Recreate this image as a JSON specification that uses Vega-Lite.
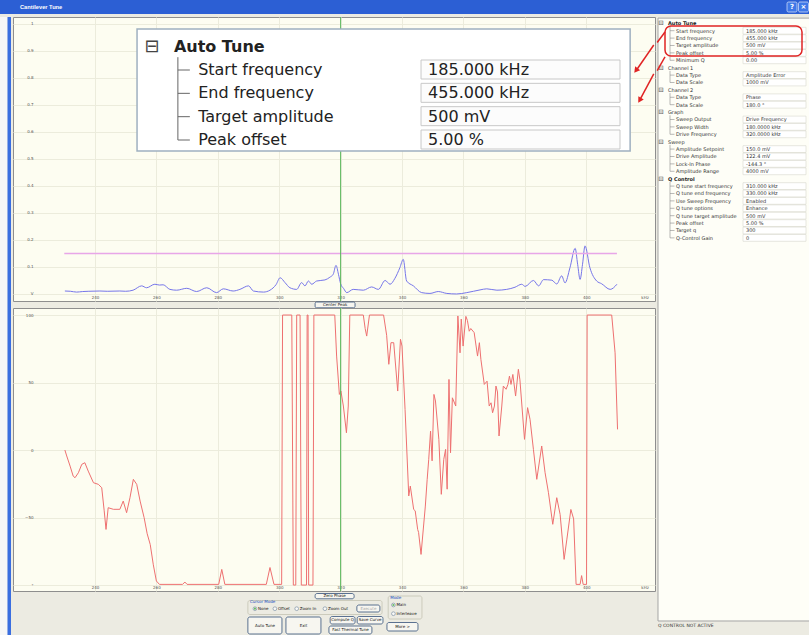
{
  "$schema": "https://vega.github.io/schema/vega-lite/v6.json",
  "padding": 0,
  "background": "#ecebe2",
  "spacing": 2,
  "config": {
    "view": {"stroke": null},
    "text": {"font": "DejaVu Sans"},
    "axis": {"labelFont": "DejaVu Sans"}
  },
  "datasets": {
    "amp": [
      {"f":230.2,"v":0.011},{"f":232,"v":0.010},{"f":234,"v":0.007},{"f":236,"v":0.009},{"f":238,"v":0.010},{"f":241.6,"v":0.011},{"f":244,"v":0.010},{"f":248.1,"v":0.011},{"f":250,"v":0.010},{"f":252.4,"v":0.014},{"f":255.2,"v":0.030},{"f":256.8,"v":0.023},{"f":259.5,"v":0.036},{"f":261,"v":0.033},{"f":262.2,"v":0.034},{"f":264.4,"v":0.017},{"f":266.6,"v":0.014},{"f":269.9,"v":0.021},{"f":273.1,"v":0.009},{"f":276.4,"v":0.023},{"f":279.6,"v":0.005},{"f":281.8,"v":0.019},{"f":285.0,"v":0.011},{"f":287.2,"v":0.017},{"f":290.0,"v":0.030},{"f":291.6,"v":0.011},{"f":294.9,"v":0.007},{"f":297.0,"v":0.014},{"f":299,"v":0.035},{"f":300.3,"v":0.060},{"f":301.9,"v":0.042},{"f":303.5,"v":0.023},{"f":305.7,"v":0.017},{"f":307.3,"v":0.042},{"f":308.4,"v":0.030},{"f":309.5,"v":0.048},{"f":310.6,"v":0.036},{"f":312.2,"v":0.048},{"f":314.9,"v":0.052},{"f":316.5,"v":0.062},{"f":317.6,"v":0.073},{"f":318.5,"v":0.106},{"f":319.3,"v":0.073},{"f":320.0,"v":0.038},{"f":321,"v":0.020},{"f":322.0,"v":0.005},{"f":324.1,"v":0.017},{"f":327.4,"v":0.014},{"f":330.1,"v":0.026},{"f":332.3,"v":0.017},{"f":334.5,"v":0.050},{"f":336.1,"v":0.036},{"f":337.7,"v":0.058},{"f":339.3,"v":0.097},{"f":340.4,"v":0.128},{"f":341.5,"v":0.048},{"f":343.7,"v":0.030},{"f":346.4,"v":0.005},{"f":349.1,"v":0.002},{"f":351.8,"v":0.009},{"f":354.6,"v":0.002},{"f":357.8,"v":0.000},{"f":361.1,"v":0.005},{"f":365.4,"v":0.015},{"f":367.6,"v":0.019},{"f":370.9,"v":0.014},{"f":374.1,"v":0.017},{"f":376.8,"v":0.025},{"f":379.0,"v":0.036},{"f":380.1,"v":0.028},{"f":382.8,"v":0.050},{"f":384.5,"v":0.030},{"f":386.1,"v":0.053},{"f":388.8,"v":0.051},{"f":390.4,"v":0.037},{"f":392.0,"v":0.067},{"f":393.1,"v":0.041},{"f":394.7,"v":0.097},{"f":396.4,"v":0.169},{"f":397.2,"v":0.110},{"f":398.0,"v":0.054},{"f":398.8,"v":0.110},{"f":399.6,"v":0.178},{"f":401.2,"v":0.097},{"f":403.4,"v":0.048},{"f":405.0,"v":0.038},{"f":407.8,"v":0.017},{"f":410.0,"v":0.036}
    ],
    "phase": [
      {"f":230.2,"p":0},{"f":230.8,"p":-4.4},{"f":231.9,"p":-11.9},{"f":232.9,"p":-19.3},{"f":233.5,"p":-20.5},{"f":234.6,"p":-16.8},{"f":235.7,"p":-10.6},{"f":236.7,"p":-9.4},{"f":237.8,"p":-15.6},{"f":239.5,"p":-24.2},{"f":241.1,"p":-25.4},{"f":242.2,"p":-27.9},{"f":243.0,"p":-45},{"f":243.6,"p":-58.8},{"f":244.3,"p":-42.7},{"f":246.0,"p":-43.9},{"f":248.1,"p":-43.9},{"f":249.2,"p":-37.8},{"f":250.3,"p":-46.4},{"f":251.4,"p":-35.3},{"f":252.5,"p":-21.7},{"f":253.6,"p":-25.4},{"f":254.7,"p":-37.8},{"f":256.0,"p":-50},{"f":257.0,"p":-62},{"f":258.0,"p":-70},{"f":259.0,"p":-85},{"f":260.0,"p":-97},{"f":261.0,"p":-99.5},{"f":268.5,"p":-99.5},{"f":269.3,"p":-97.8},{"f":270.0,"p":-99.5},{"f":280.3,"p":-99.5},{"f":281.3,"p":-88.4},{"f":282.3,"p":-99.5},{"f":295.8,"p":-99.5},{"f":297.0,"p":-87},{"f":298.3,"p":-99.5},{"f":300.8,"p":-99.5},{"f":301.1,"p":100},{"f":304.1,"p":100},{"f":304.6,"p":-100},{"f":305.4,"p":-100},{"f":305.7,"p":100},{"f":306.8,"p":100},{"f":307.2,"p":-100},{"f":308.9,"p":-100},{"f":309.1,"p":100},{"f":309.4,"p":100},{"f":309.6,"p":-100},{"f":311.0,"p":-100},{"f":311.3,"p":100},{"f":318.1,"p":100},{"f":318.7,"p":69.6},{"f":319.6,"p":41.2},{"f":320.1,"p":43.7},{"f":320.9,"p":32.6},{"f":321.9,"p":12.8},{"f":322.5,"p":32.6},{"f":323.0,"p":100},{"f":327.4,"p":100},{"f":328.0,"p":90},{"f":328.5,"p":84.4},{"f":329.4,"p":100},{"f":334.0,"p":100},{"f":335.0,"p":85},{"f":335.7,"p":63.5},{"f":336.4,"p":79.5},{"f":337.3,"p":79.5},{"f":338.6,"p":43.7},{"f":339.5,"p":82},{"f":340.0,"p":77},{"f":341.0,"p":30},{"f":342.2,"p":-34},{"f":342.7,"p":-26.7},{"f":343.8,"p":-44},{"f":344.3,"p":-45},{"f":345.1,"p":-58.8},{"f":345.4,"p":-61},{"f":346.2,"p":-77.3},{"f":347.6,"p":-41.5},{"f":348.2,"p":-21.7},{"f":348.7,"p":-6.9},{"f":349.3,"p":14},{"f":349.8,"p":-8},{"f":350.4,"p":41.2},{"f":350.9,"p":36.3},{"f":352.0,"p":7.9},{"f":352.8,"p":-32.8},{"f":353.6,"p":-6.9},{"f":354.2,"p":0.5},{"f":354.7,"p":-29},{"f":355.3,"p":52.3},{"f":355.8,"p":-2},{"f":356.4,"p":38.7},{"f":357.5,"p":32.6},{"f":358.2,"p":99.3},{"f":358.9,"p":72},{"f":359.3,"p":97},{"f":359.9,"p":77},{"f":360.8,"p":99},{"f":361.3,"p":96},{"f":361.9,"p":88},{"f":362.4,"p":90},{"f":363.5,"p":87},{"f":364.6,"p":69.6},{"f":365.2,"p":79.5},{"f":365.7,"p":67},{"f":366.8,"p":48.6},{"f":367.7,"p":51},{"f":368.4,"p":32.6},{"f":369.0,"p":35},{"f":369.5,"p":27.6},{"f":370.1,"p":32.6},{"f":370.6,"p":47.4},{"f":371.1,"p":43},{"f":371.6,"p":10.4},{"f":372.5,"p":32.6},{"f":373.0,"p":47.4},{"f":373.9,"p":45},{"f":374.5,"p":48.6},{"f":375.0,"p":54.8},{"f":375.5,"p":48.6},{"f":376.1,"p":56},{"f":377.0,"p":40},{"f":377.9,"p":59.8},{"f":378.4,"p":52},{"f":379.9,"p":7.9},{"f":380.9,"p":31.4},{"f":381.7,"p":22.7},{"f":382.8,"p":0.5},{"f":383.9,"p":-21.7},{"f":385.5,"p":3},{"f":386.6,"p":-16.8},{"f":387.7,"p":-31.6},{"f":389.1,"p":-55},{"f":390.4,"p":-35.3},{"f":391.5,"p":-47.7},{"f":392.8,"p":-81},{"f":393.7,"p":-66},{"f":395.0,"p":-44},{"f":395.9,"p":-51},{"f":396.7,"p":-99.5},{"f":398.0,"p":-99.5},{"f":398.5,"p":-93},{"f":399.0,"p":-99.5},{"f":400.1,"p":-99.5},{"f":400.3,"p":100},{"f":408.3,"p":100},{"f":409.4,"p":72},{"f":410.2,"p":15.3}
    ],
    "tree": [
      {"r":1,"s":"Auto Tune","l":"Auto Tune"},
      {"r":2,"s":"Auto Tune","l":"Start frequency","v":"185.000 kHz"},
      {"r":3,"s":"Auto Tune","l":"End frequency","v":"455.000 kHz"},
      {"r":4,"s":"Auto Tune","l":"Target amplitude","v":"500 mV"},
      {"r":5,"s":"Auto Tune","l":"Peak offset","v":"5.00 %"},
      {"r":6,"s":"Auto Tune","l":"Minimum Q","v":"0.00"},
      {"r":7,"s":"Channel 1","l":"Channel 1"},
      {"r":8,"s":"Channel 1","l":"Data Type","v":"Amplitude Error"},
      {"r":9,"s":"Channel 1","l":"Data Scale","v":"1000 mV"},
      {"r":10,"s":"Channel 2","l":"Channel 2"},
      {"r":11,"s":"Channel 2","l":"Data Type","v":"Phase"},
      {"r":12,"s":"Channel 2","l":"Data Scale","v":"180.0 °"},
      {"r":13,"s":"Graph","l":"Graph"},
      {"r":14,"s":"Graph","l":"Sweep Output","v":"Drive Frequency"},
      {"r":15,"s":"Graph","l":"Sweep Width","v":"180.0000 kHz"},
      {"r":16,"s":"Graph","l":"Drive Frequency","v":"320.0000 kHz"},
      {"r":17,"s":"Sweep","l":"Sweep"},
      {"r":18,"s":"Sweep","l":"Amplitude Setpoint","v":"150.0 mV"},
      {"r":19,"s":"Sweep","l":"Drive Amplitude","v":"122.4 mV"},
      {"r":20,"s":"Sweep","l":"Lock-In Phase","v":"-144.3 °"},
      {"r":21,"s":"Sweep","l":"Amplitude Range","v":"4000 mV"},
      {"r":22,"s":"Q Control","l":"Q Control"},
      {"r":23,"s":"Q Control","l":"Q tune start frequency","v":"310.000 kHz"},
      {"r":24,"s":"Q Control","l":"Q tune end frequency","v":"330.000 kHz"},
      {"r":25,"s":"Q Control","l":"Use Sweep Frequency","v":"Enabled"},
      {"r":26,"s":"Q Control","l":"Q tune options","v":"Enhance"},
      {"r":27,"s":"Q Control","l":"Q tune target amplitude","v":"500 mV"},
      {"r":28,"s":"Q Control","l":"Peak offset","v":"5.00 %"},
      {"r":29,"s":"Q Control","l":"Target q","v":"300"},
      {"r":30,"s":"Q Control","l":"Q-Control Gain","v":"0"}
    ],
    "buttons": [
      {"l":"Zero Phase","x0":311.7,"x1":324.4,"xc":318.05,"y0":2.5,"y1":7.8,"yc":5.2},
      {"l":"Execute","x0":325.3,"x1":332.8,"xc":329.05,"y0":14,"y1":21,"yc":17.5},
      {"l":"Auto Tune","x0":289.8,"x1":300.9,"xc":295.35,"y0":26,"y1":43,"yc":34.5},
      {"l":"Exit","x0":302.2,"x1":313.6,"xc":307.9,"y0":26,"y1":43,"yc":34.5},
      {"l":"Compute Q","x0":316.6,"x1":324.7,"xc":320.65,"y0":25.5,"y1":33,"yc":29.3},
      {"l":"Save Curve","x0":325.4,"x1":333.8,"xc":329.6,"y0":25.5,"y1":33,"yc":29.3},
      {"l":"Fast Thermal Tune","x0":316.2,"x1":330.2,"xc":323.2,"y0":35,"y1":43,"yc":39},
      {"l":"More >","x0":335.1,"x1":345.2,"xc":340.15,"y0":31.5,"y1":40,"yc":35.8}
    ],
    "groups": [
      {"l":"Cursor Mode","x0":289.8,"x1":333.5,"y0":9.5,"y1":23.5},
      {"l":"Mode","x0":335.5,"x1":346.5,"y0":5,"y1":28}
    ],
    "radios": [
      {"l":"None","x":292.1,"y":17.7},
      {"l":"Offset","x":298.6,"y":17.7},
      {"l":"Zoom In","x":305.7,"y":17.7},
      {"l":"Zoom Out","x":314.9,"y":17.7},
      {"l":"Main","x":337.2,"y":14},
      {"l":"Interleave","x":337.2,"y":22.7}
    ],
    "winbtn": [
      {"g":"?","x0":787,"x1":797,"xc":792},
      {"g":"×","x0":798.5,"x1":808.5,"xc":803.5}
    ]
  },
  "vconcat": [
    {
      "width": 809, "height": 14,
      "view": {"fill": "#2c5fd4", "stroke": null},
      "layer": [
        {"data": {"values": [{"t": "Cantilever Tune"}]},
          "mark": {"type": "text", "align": "left", "baseline": "middle", "color": "#ffffff", "fontSize": 5.7, "fontWeight": "bold", "font": "Liberation Sans"},
          "encoding": {"x": {"datum": 20, "scale": {"domain": [0, 809], "nice": false, "zero": false}, "axis": null}, "text": {"field": "t"}}},
        {"data": {"name": "winbtn"}, "mark": {"type": "rect", "fill": "#3f78e8", "stroke": "#ffffff", "strokeWidth": 0.6, "cornerRadius": 1.5},
          "encoding": {"x": {"field": "x0", "type": "quantitative"}, "x2": {"field": "x1"}, "y": {"datum": 2, "scale": {"domain": [0, 14], "reverse": true, "nice": false, "zero": false}, "axis": null}, "y2": {"datum": 12}}},
        {"data": {"name": "winbtn"}, "mark": {"type": "text", "align": "center", "baseline": "middle", "color": "#ffffff", "fontSize": 7, "fontWeight": "bold"},
          "encoding": {"x": {"field": "xc", "type": "quantitative"}, "y": {"datum": 7}, "text": {"field": "g"}}}
      ]
    },
    {
      "hconcat": [
        {
          "width": 12, "height": 619,
          "view": {"fill": null, "stroke": null},
          "layer": [
            {"data": {"values": [{}]}, "mark": {"type": "rect", "fill": "#f7f7f7"}, "encoding": {"x": {"datum": 0, "scale": {"domain": [0, 12], "nice": false, "zero": false}, "axis": null}, "x2": {"datum": 7.5}}},
            {"data": {"values": [{}]}, "mark": {"type": "rect", "fill": "#3a6ee0"}, "encoding": {"x": {"datum": 7.5}, "x2": {"datum": 11}}}
          ]
        },
        {
          "vconcat": [
            {
              "width": 642, "height": 284,
              "view": {"fill": "#fdfdf1", "stroke": "#8e8e8e"},
              "resolve": {"scale": {"y": "independent"}},
              "layer": [
                {
                  "layer": [
                    {
                      "data": {"name": "amp"},
                      "mark": {"type": "line", "color": "#7676ea", "strokeWidth": 1, "interpolate": "monotone"},
                      "encoding": {
                        "x": {"field": "f", "type": "quantitative", "scale": {"domain": [213.3, 422.4], "nice": false, "zero": false},
                          "axis": {"values": [240,260,280,300,320,340,360,380,400,419], "labelExpr": "datum.value == 419 ? 'kHz' : datum.label", "orient": "bottom", "title": null, "domain": false, "ticks": false, "labelPadding": -5.5, "labelFontSize": 4, "labelColor": "#555", "labelBaseline": "top", "labelOverlap": false, "grid": true, "gridColor": {"condition": {"test": "datum.value == 419", "value": "transparent"}, "value": "#ececdc"}}},
                        "y": {"field": "v", "type": "quantitative", "scale": {"domain": [-0.026, 1.025], "nice": false, "zero": false},
                          "axis": {"values": [0,0.1,0.2,0.3,0.4,0.5,0.6,0.7,0.8,0.9,1], "tickCount": 11, "labelExpr": "datum.value == 0 ? 'V' : format(datum.value, '~g')", "title": null, "domain": false, "ticks": false, "labelPadding": -20, "labelFontSize": 4, "labelColor": "#555", "labelOverlap": false, "grid": true, "gridColor": "#ececdc"}}
                      }
                    },
                    {"data": {"values": [{}]}, "mark": {"type": "rule", "color": "#e8a6e8", "strokeWidth": 1.5}, "encoding": {"x": {"datum": 230}, "x2": {"datum": 410}, "y": {"datum": 0.15}}},
                    {"data": {"values": [{}]}, "mark": {"type": "rule", "color": "#5cb85c", "strokeWidth": 1}, "encoding": {"x": {"datum": 320}}}
                  ]
                },
                {
                  "layer": [
                    {"data": {"values": [{}]}, "mark": {"type": "rect", "fill": "#ffffff", "stroke": "#9fb0c0", "strokeWidth": 1.5},
                      "encoding": {"x": {"datum": 253.7}, "x2": {"datum": 414.3}, "y": {"datum": 0.242, "scale": {"domain": [-0.272, 11.9], "reverse": true, "nice": false, "zero": false}, "axis": null}, "y2": {"datum": 5.472}}},
                    {"data": {"values": [{}]}, "mark": {"type": "rule", "color": "#666666", "strokeWidth": 1}, "encoding": {"x": {"datum": 267.0}, "y": {"datum": 1.45}, "y2": {"datum": 5}}},
                    {"data": {"name": "tree"}, "transform": [{"filter": "datum.r >= 2 && datum.r <= 5"}], "mark": {"type": "rule", "color": "#666666", "strokeWidth": 1}, "encoding": {"x": {"datum": 267.0}, "x2": {"datum": 270.9}, "y": {"field": "r", "type": "quantitative"}}},
                    {"data": {"name": "tree"}, "transform": [{"filter": "datum.r >= 2 && datum.r <= 5"}], "mark": {"type": "rect", "fill": "#fcfcfc", "stroke": "#c8c8c8", "strokeWidth": 1, "yOffset": -10, "y2Offset": 9}, "encoding": {"x": {"datum": 346.2}, "x2": {"datum": 411.0}, "y": {"field": "r", "type": "quantitative"}, "y2": {"field": "r"}}},
                    {"data": {"name": "tree"}, "transform": [{"filter": "datum.r >= 2 && datum.r <= 5"}], "mark": {"type": "text", "align": "left", "baseline": "middle", "fontSize": 16, "color": "#222222"}, "encoding": {"x": {"datum": 273.6}, "y": {"field": "r", "type": "quantitative"}, "text": {"field": "l"}}},
                    {"data": {"name": "tree"}, "transform": [{"filter": "datum.r >= 2 && datum.r <= 5"}], "mark": {"type": "text", "align": "left", "baseline": "middle", "fontSize": 16, "color": "#222222"}, "encoding": {"x": {"datum": 348.5}, "y": {"field": "r", "type": "quantitative"}, "text": {"field": "v"}}},
                    {"data": {"name": "tree"}, "transform": [{"filter": "datum.r == 1"}], "mark": {"type": "text", "text": "⊟", "align": "center", "baseline": "middle", "fontSize": 18, "color": "#444444"}, "encoding": {"x": {"datum": 258.6}, "y": {"field": "r", "type": "quantitative"}}},
                    {"data": {"name": "tree"}, "transform": [{"filter": "datum.r == 1"}], "mark": {"type": "text", "align": "left", "baseline": "middle", "fontSize": 16, "fontWeight": "bold", "color": "#222222"}, "encoding": {"x": {"datum": 265.7}, "y": {"field": "r", "type": "quantitative"}, "text": {"field": "l"}}},
                    {"data": {"values": [{}]}, "mark": {"type": "rule", "color": "#e02424", "strokeWidth": 1.5}, "encoding": {"x": {"datum": 422.0}, "x2": {"datum": 416.5}, "y": {"datum": 0.928}, "y2": {"datum": 1.98}}},
                    {"data": {"values": [{}]}, "mark": {"type": "point", "shape": "triangle-up", "filled": true, "color": "#e02424", "size": 40, "angle": 218, "opacity": 1}, "encoding": {"x": {"datum": 416.2}, "y": {"datum": 2.02}}},
                    {"data": {"values": [{}]}, "mark": {"type": "rule", "color": "#e02424", "strokeWidth": 1.5}, "encoding": {"x": {"datum": 422.0}, "x2": {"datum": 417.6}, "y": {"datum": 2.167}, "y2": {"datum": 3.25}}},
                    {"data": {"values": [{}]}, "mark": {"type": "point", "shape": "triangle-up", "filled": true, "color": "#e02424", "size": 40, "angle": 211, "opacity": 1}, "encoding": {"x": {"datum": 417.4}, "y": {"datum": 3.3}}}
                  ]
                }
              ]
            },
            {
              "width": 642, "height": 7,
              "view": {"fill": null, "stroke": null},
              "layer": [
                {"data": {"values": [{}]}, "mark": {"type": "rect", "fill": "#f6f5ef", "stroke": "#34507a", "strokeWidth": 0.8, "cornerRadius": 1.5},
                  "encoding": {"x": {"datum": 311.7, "scale": {"domain": [213.3, 422.4], "nice": false, "zero": false}, "axis": null}, "x2": {"datum": 324.7}, "y": {"datum": 1, "scale": {"domain": [0, 7], "reverse": true, "nice": false}, "axis": null}, "y2": {"datum": 6.8}}},
                {"data": {"values": [{"t": "Center Peak"}]}, "mark": {"type": "text", "align": "center", "baseline": "middle", "fontSize": 4, "color": "#222222"},
                  "encoding": {"x": {"datum": 318.2}, "y": {"datum": 4}, "text": {"field": "t"}}}
              ]
            },
            {
              "width": 642, "height": 283,
              "view": {"fill": "#fdfdf1", "stroke": "#8e8e8e"},
              "layer": [
                {
                  "data": {"name": "phase"},
                  "mark": {"type": "line", "color": "#ee7070", "strokeWidth": 1, "clip": true},
                  "encoding": {
                    "x": {"field": "f", "type": "quantitative", "scale": {"domain": [213.3, 422.4], "nice": false, "zero": false},
                      "axis": {"values": [240,260,280,300,320,340,360,380,400,419], "labelExpr": "datum.value == 419 ? 'kHz' : datum.label", "orient": "bottom", "title": null, "domain": false, "ticks": false, "labelPadding": -5.5, "labelFontSize": 4, "labelColor": "#555", "labelBaseline": "top", "labelOverlap": false, "grid": true, "gridColor": {"condition": {"test": "datum.value == 419", "value": "transparent"}, "value": "#ececdc"}}},
                    "y": {"field": "p", "type": "quantitative", "scale": {"domain": [-104.4, 105.2], "nice": false, "zero": false},
                      "axis": {"values": [-100,-50,0,50,100], "labelExpr": "datum.value == -100 ? '°' : datum.label", "title": null, "domain": false, "ticks": false, "labelPadding": -20, "labelFontSize": 4, "labelColor": "#555", "labelOverlap": false, "grid": true, "gridColor": "#ececdc"}}
                  }
                },
                {"data": {"values": [{}]}, "mark": {"type": "rule", "color": "#5cb85c", "strokeWidth": 1}, "encoding": {"x": {"datum": 320}}}
              ]
            },
            {
              "width": 642, "height": 45,
              "view": {"fill": null, "stroke": null},
              "layer": [
                {"data": {"name": "groups"}, "mark": {"type": "rect", "fill": "transparent", "stroke": "#c4c3b2", "strokeWidth": 0.8, "cornerRadius": 2},
                  "encoding": {"x": {"field": "x0", "type": "quantitative", "scale": {"domain": [213.3, 422.4], "nice": false, "zero": false}, "axis": null}, "x2": {"field": "x1"}, "y": {"field": "y0", "type": "quantitative", "scale": {"domain": [0, 45], "reverse": true, "nice": false}, "axis": null}, "y2": {"field": "y1"}}},
                {"data": {"name": "groups"}, "mark": {"type": "text", "align": "left", "baseline": "middle", "fontSize": 4, "color": "#1a4fc0", "dx": 2, "dy": 1.5},
                  "encoding": {"x": {"field": "x0", "type": "quantitative"}, "y": {"field": "y0", "type": "quantitative"}, "text": {"field": "l"}}},
                {"data": {"name": "buttons"}, "mark": {"type": "rect", "fill": "#f7f6f0", "stroke": "#34507a", "strokeWidth": 0.8, "cornerRadius": 2},
                  "encoding": {"x": {"field": "x0", "type": "quantitative"}, "x2": {"field": "x1"}, "y": {"field": "y0", "type": "quantitative"}, "y2": {"field": "y1"}}},
                {"data": {"name": "buttons"}, "mark": {"type": "text", "align": "center", "baseline": "middle", "fontSize": 4},
                  "encoding": {"x": {"field": "xc", "type": "quantitative"}, "y": {"field": "yc", "type": "quantitative"}, "text": {"field": "l"}, "color": {"condition": {"test": "datum.l == 'Execute'", "value": "#a8a8a8"}, "value": "#111111"}}},
                {"data": {"name": "radios"}, "mark": {"type": "point", "shape": "circle", "filled": true, "fill": "#ffffff", "stroke": "#3a5a80", "strokeWidth": 0.6, "size": 14},
                  "encoding": {"x": {"field": "x", "type": "quantitative"}, "y": {"field": "y", "type": "quantitative"}}},
                {"data": {"name": "radios"}, "transform": [{"filter": "datum.l == 'None' || datum.l == 'Main'"}], "mark": {"type": "point", "shape": "circle", "filled": true, "color": "#2aa22a", "size": 5},
                  "encoding": {"x": {"field": "x", "type": "quantitative"}, "y": {"field": "y", "type": "quantitative"}}},
                {"data": {"name": "radios"}, "mark": {"type": "text", "align": "left", "baseline": "middle", "fontSize": 4, "color": "#111111", "dx": 3},
                  "encoding": {"x": {"field": "x", "type": "quantitative"}, "y": {"field": "y", "type": "quantitative"}, "text": {"field": "l"}}}
              ]
            }
          ],
          "spacing": 0,
          "bounds": "flush"
        },
        {
          "width": 154, "height": 619,
          "view": {"fill": null, "stroke": null},
          "layer": [
            {"data": {"values": [{}]}, "mark": {"type": "rect", "fill": "#fefef7", "stroke": "#a5a5a5", "strokeWidth": 1},
              "encoding": {"x": {"datum": 3, "scale": {"domain": [2, 156], "nice": false, "zero": false}, "axis": null}, "x2": {"datum": 155}, "y": {"datum": 0.3, "scale": {"domain": [0.149, 83.8], "reverse": true, "nice": false, "zero": false}, "axis": null}, "y2": {"datum": 81.77}}},
            {"data": {"name": "tree"}, "transform": [{"filter": "isValid(datum.v)"}], "mark": {"type": "rect", "fill": "#ffffff", "stroke": "#d6d6cc", "strokeWidth": 0.6, "yOffset": -3.4, "y2Offset": 3.4},
              "encoding": {"x": {"datum": 88}, "x2": {"datum": 151}, "y": {"field": "r", "type": "quantitative"}, "y2": {"field": "r"}}},
            {"data": {"name": "tree"}, "transform": [{"filter": "isValid(datum.v)"}, {"aggregate": [{"op": "min", "field": "r", "as": "r0"}, {"op": "max", "field": "r", "as": "r1"}], "groupby": ["s"]}],
              "mark": {"type": "rule", "color": "#8a8a8a", "strokeWidth": 0.6, "yOffset": -4.2},
              "encoding": {"x": {"datum": 15}, "y": {"field": "r0", "type": "quantitative"}, "y2": {"field": "r1"}}},
            {"data": {"name": "tree"}, "transform": [{"filter": "isValid(datum.v)"}], "mark": {"type": "rule", "color": "#8a8a8a", "strokeWidth": 0.6},
              "encoding": {"x": {"datum": 15}, "x2": {"datum": 19.5}, "y": {"field": "r", "type": "quantitative"}}},
            {"data": {"name": "tree"}, "transform": [{"filter": "!isValid(datum.v)"}], "mark": {"type": "text", "text": "⊟", "align": "center", "baseline": "middle", "fontSize": 6.5, "color": "#555555"},
              "encoding": {"x": {"datum": 6}, "y": {"field": "r", "type": "quantitative"}}},
            {"data": {"name": "tree"}, "transform": [{"filter": "!isValid(datum.v) && (datum.l == 'Auto Tune' || datum.l == 'Q Control')"}], "mark": {"type": "text", "align": "left", "baseline": "middle", "fontSize": 5, "fontWeight": "bold", "color": "#222222"},
              "encoding": {"x": {"datum": 13}, "y": {"field": "r", "type": "quantitative"}, "text": {"field": "l"}}},
            {"data": {"name": "tree"}, "transform": [{"filter": "!isValid(datum.v) && datum.l != 'Auto Tune' && datum.l != 'Q Control'"}], "mark": {"type": "text", "align": "left", "baseline": "middle", "fontSize": 5, "color": "#333333"},
              "encoding": {"x": {"datum": 13}, "y": {"field": "r", "type": "quantitative"}, "text": {"field": "l"}}},
            {"data": {"name": "tree"}, "transform": [{"filter": "isValid(datum.v)"}], "mark": {"type": "text", "align": "left", "baseline": "middle", "fontSize": 5, "color": "#333333"},
              "encoding": {"x": {"datum": 21}, "y": {"field": "r", "type": "quantitative"}, "text": {"field": "l"}}},
            {"data": {"name": "tree"}, "transform": [{"filter": "isValid(datum.v)"}], "mark": {"type": "text", "align": "left", "baseline": "middle", "fontSize": 5, "color": "#333333"},
              "encoding": {"x": {"datum": 91}, "y": {"field": "r", "type": "quantitative"}, "text": {"field": "v"}}},
            {"data": {"values": [{}]}, "mark": {"type": "rect", "fill": "transparent", "stroke": "#e02424", "strokeWidth": 1.5, "cornerRadius": 6},
              "encoding": {"x": {"datum": 10}, "x2": {"datum": 147}, "y": {"datum": 1.36}, "y2": {"datum": 5.42}}},
            {"data": {"values": [{}]}, "mark": {"type": "rule", "color": "#e02424", "strokeWidth": 1.5},
              "encoding": {"x": {"datum": 10}, "x2": {"datum": 2.2}, "y": {"datum": 2.18}, "y2": {"datum": 3.6}}},
            {"data": {"values": [{}]}, "mark": {"type": "rule", "color": "#e02424", "strokeWidth": 1.5},
              "encoding": {"x": {"datum": 10}, "x2": {"datum": 2.2}, "y": {"datum": 5.55}, "y2": {"datum": 7.4}}},
            {"data": {"values": [{"t": "Q CONTROL NOT ACTIVE"}]}, "mark": {"type": "text", "align": "left", "baseline": "middle", "fontSize": 4.5, "color": "#333333"},
              "encoding": {"x": {"datum": 3}, "y": {"datum": 82.45}, "text": {"field": "t"}}}
          ]
        }
      ],
      "spacing": 0
    }
  ]
}
